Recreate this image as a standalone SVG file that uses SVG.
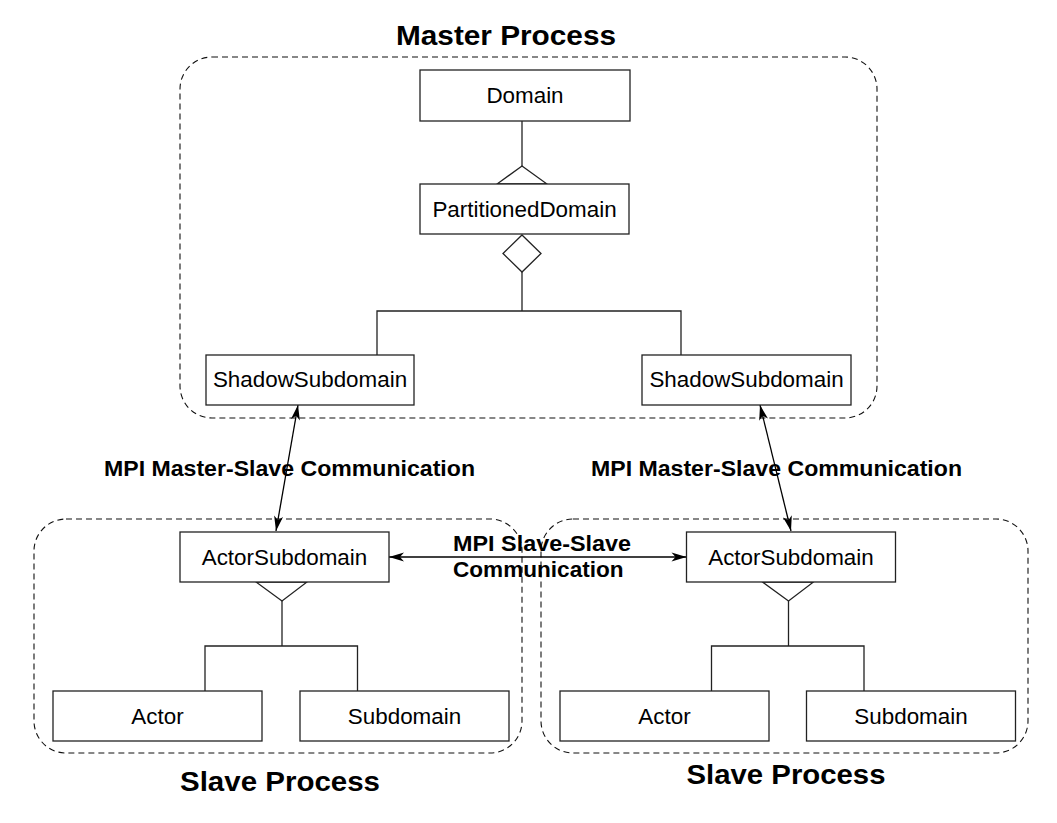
<svg xmlns="http://www.w3.org/2000/svg" width="1057" height="823" viewBox="0 0 1057 823">
<style>
.bg{fill:#ffffff}
.box{fill:#ffffff;stroke:#222;stroke-width:1.3}
.proc{fill:none;stroke:#111;stroke-width:1.1;stroke-dasharray:6 4}
.ln{fill:none;stroke:#222;stroke-width:1.3}
.sym{fill:#ffffff;stroke:#222;stroke-width:1.3}
.arr{fill:none;stroke:#000;stroke-width:1.3;marker-start:url(#ah);marker-end:url(#ah)}
.nt{font-family:"Liberation Sans",Arial,sans-serif;font-size:22.4px;fill:#000;text-anchor:middle}
.lbl{font-family:"Liberation Sans",Arial,sans-serif;font-size:22.6px;font-weight:bold;fill:#000}
.ttl{font-family:"Liberation Sans",Arial,sans-serif;font-size:27px;font-weight:bold;fill:#000}
</style>
<defs>
<marker id="ah" markerUnits="userSpaceOnUse" markerWidth="18" markerHeight="12" viewBox="0 -6 16 12" refX="15" refY="0" orient="auto-start-reverse">
<path d="M0,-4.5 L15,0 L0,4.5 L4,0 Z" fill="#000"/>
</marker>
</defs>
<rect class="bg" x="0" y="0" width="1057" height="823"/>

<g id="processes">
<rect class="proc" x="180" y="57" width="697" height="361" rx="32" ry="32"/>
<rect class="proc" x="34" y="519" width="488" height="234" rx="32" ry="32"/>
<rect class="proc" x="541" y="519" width="487" height="234" rx="32" ry="32"/>
<text class="ttl" x="396" y="45" textLength="220" lengthAdjust="spacingAndGlyphs">Master Process</text>
<text class="ttl" x="180" y="791" textLength="200" lengthAdjust="spacingAndGlyphs">Slave Process</text>
<text class="ttl" x="686.5" y="784" textLength="199" lengthAdjust="spacingAndGlyphs">Slave Process</text>
</g>

<g id="connectors">
<line class="ln" x1="522" y1="121" x2="522" y2="166"/>
<polygon class="sym" points="522,166 547,184 497,184"/>
<line class="ln" x1="522" y1="272" x2="522" y2="311"/>
<polyline class="ln" points="377,355 377,311 681,311 681,355"/>
<polygon class="sym" points="522,235 541,253.5 522,272 503,253.5"/>

<line class="ln" x1="282" y1="601" x2="282" y2="646"/>
<polyline class="ln" points="205,691 205,646 357.5,646 357.5,691"/>
<polygon class="sym" points="256,582 307,582 282,601"/>

<line class="ln" x1="788.5" y1="601" x2="788.5" y2="646"/>
<polyline class="ln" points="711.5,691 711.5,646 864,646 864,691"/>
<polygon class="sym" points="762.5,582 813.5,582 788.5,601"/>

<line class="arr" x1="298" y1="405" x2="276" y2="531"/>
<line class="arr" x1="760" y1="405" x2="791" y2="531"/>
<line class="arr" x1="389" y1="557" x2="686.5" y2="557"/>

<text class="lbl" x="104" y="475.5" textLength="371" lengthAdjust="spacingAndGlyphs">MPI Master-Slave Communication</text>
<text class="lbl" x="591" y="475.5" textLength="371" lengthAdjust="spacingAndGlyphs">MPI Master-Slave Communication</text>
<text class="lbl" x="453" y="551" textLength="178" lengthAdjust="spacingAndGlyphs">MPI Slave-Slave</text>
<text class="lbl" x="453" y="576.7" textLength="170.6" lengthAdjust="spacingAndGlyphs">Communication</text>
</g>

<g id="domain"><rect class="box" x="420" y="70" width="210" height="51"/><text class="nt" x="525" y="103">Domain</text></g>
<g id="partitioned-domain"><rect class="box" x="420" y="184" width="209" height="50"/><text class="nt" x="524.5" y="216.7">PartitionedDomain</text></g>
<g id="shadow-subdomain-1"><rect class="box" x="206" y="355" width="208" height="50"/><text class="nt" x="310" y="387.3">ShadowSubdomain</text></g>
<g id="shadow-subdomain-2"><rect class="box" x="642" y="355" width="209" height="50"/><text class="nt" x="746.5" y="387.3">ShadowSubdomain</text></g>

<g id="actor-subdomain-1"><rect class="box" x="180" y="532" width="209" height="50"/><text class="nt" x="284.5" y="564.5">ActorSubdomain</text></g>
<g id="actor-1"><rect class="box" x="53" y="691" width="209" height="50"/><text class="nt" x="157.5" y="723.5">Actor</text></g>
<g id="subdomain-1"><rect class="box" x="300" y="691" width="209" height="50"/><text class="nt" x="404.5" y="723.5">Subdomain</text></g>

<g id="actor-subdomain-2"><rect class="box" x="686.5" y="532" width="209" height="50"/><text class="nt" x="791" y="564.5">ActorSubdomain</text></g>
<g id="actor-2"><rect class="box" x="560" y="691" width="209" height="50"/><text class="nt" x="664.5" y="723.5">Actor</text></g>
<g id="subdomain-2"><rect class="box" x="806.5" y="691" width="209" height="50"/><text class="nt" x="911" y="723.5">Subdomain</text></g>
</svg>
